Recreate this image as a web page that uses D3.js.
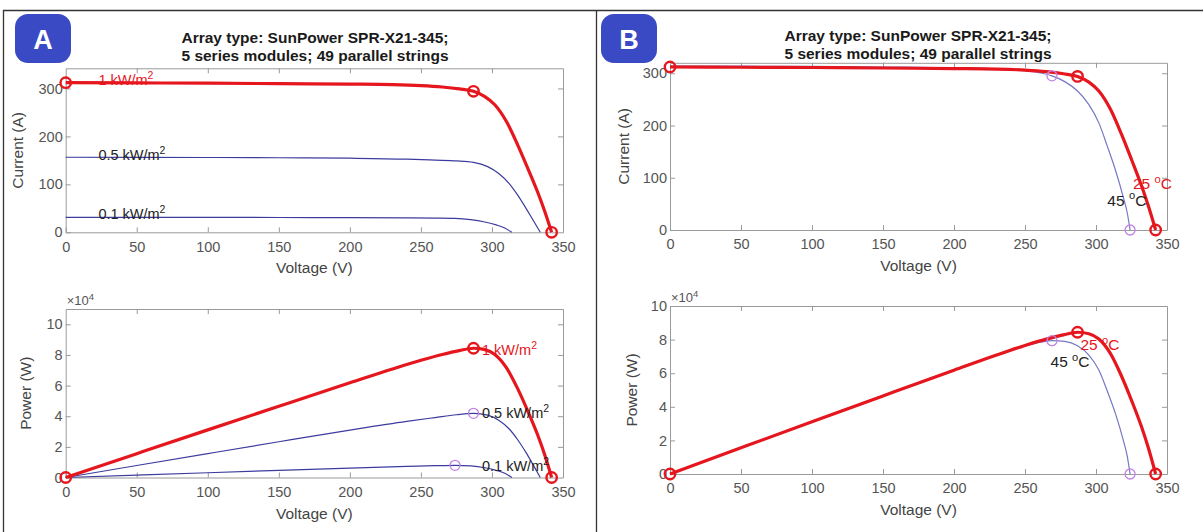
<!DOCTYPE html>
<html><head><meta charset="utf-8">
<script src="https://cdn.jsdelivr.net/npm/d3@7"></script>
<style>
body{margin:0;background:#fff}
svg{display:block}
text{font-family:"Liberation Sans",Arial,Helvetica,sans-serif}
</style>
</head><body>
<svg id="chart" width="1203" height="532"></svg>
<script>
// ---------------- data ----------------
const voltageTicks = [0, 50, 100, 150, 200, 250, 300, 350];
const currentTicks = [0, 100, 200, 300];
const powerTicksA = [0, 20000, 40000, 60000, 80000, 100000];
const powerTicksB = [0, 20000, 40000, 60000, 80000, 100000];
const titleLines = ["Array type: SunPower SPR-X21-345;", "5 series modules; 49 parallel strings"];
const panelLetters = ["A", "B"];

// I-V curves [voltage V, current A]
const iv1000 = [[0,312],[50,311.5],[100,311],[150,310],[200,309],[230,308],[250,306],[265,303],[277,299],[287,294],[295,283],[302,266],[310,232],[318,183],[325,135],[332,85],[337,45],[342,0]];
const iv500 = [[0,156.5],[50,156.3],[100,156],[150,155.5],[200,154.5],[240,152.5],[260,150.5],[275,149],[287,146],[297,137],[305,122],[312,102],[318,78],[324,50],[329,25],[334,0]];
const iv100 = [[0,31.3],[50,31.2],[100,31.1],[150,30.9],[200,30.6],[240,30],[260,29.6],[274,29],[285,26.5],[295,21.5],[303,15.5],[309,9],[314,0]];
const iv45C = [[0,314],[50,313.5],[100,313],[150,312],[200,310.5],[230,308.5],[250,305],[262,300],[269,295],[278,284],[287,266],[295,240],[302,205],[308,160],[314,112],[319,65],[322,33],[324,0]];

// P-V curves [voltage V, power W]
const pv1000 = [[0,0],[50,15575],[100,31100],[150,46500],[200,61800],[230,70840],[250,76500],[265,80295],[277,82823],[287,84378],[295,83485],[302,80332],[310,71920],[318,58194],[325,43875],[332,28220],[337,15165],[342,0]];
const pv500 = [[0,0],[50,7815],[100,15600],[150,23325],[200,30900],[240,36600],[260,39130],[275,40975],[287,41902],[297,40689],[305,37210],[312,31824],[318,24804],[324,16200],[329,8225],[334,0]];
const pv100 = [[0,0],[50,1560],[100,3110],[150,4635],[200,6120],[240,7200],[260,7696],[274,7946],[285,7553],[295,6343],[303,4697],[309,2781],[314,0]];
const pv45C = [[0,0],[50,15675],[100,31300],[150,46800],[200,62100],[230,70955],[250,76250],[262,78600],[269,79355],[278,78952],[287,76342],[295,70800],[302,61910],[308,49280],[314,35168],[319,20735],[322,10626],[324,0]];

// key points (short circuit, max power, open circuit)
const ivMarks1000 = [[0,312],[287,294],[342,0]];
const pvMarks1000 = [[0,0],[287,84378],[342,0]];
const pvMarksLow = [[287,41902],[274,7946]];
const ivMarks45C = [[269,295],[324,0]];
const pvMarks45C = [[269,79355],[324,0]];

// ---------------- drawing ----------------
const svg = d3.select("#chart");
svg.append("rect").attr("width",1203).attr("height",532).attr("fill","#fff");

const RED = "#e5161d", BLUE_A = "#3c3c9e", BLUE_B = "#7777c4", PURPLE = "#c283e6";
const AXIS = "#9a9a9a", TICKTXT = "#555", LABEL = "#444";

// frame lines
svg.append("line").attr("x1",3).attr("x2",1203).attr("y1",10.5).attr("y2",10.5).attr("stroke","#333").attr("stroke-width",1.3);
svg.append("line").attr("x1",3.5).attr("x2",3.5).attr("y1",10).attr("y2",532).attr("stroke","#333").attr("stroke-width",1.3);
svg.append("line").attr("x1",596.5).attr("x2",596.5).attr("y1",10).attr("y2",532).attr("stroke","#333").attr("stroke-width",1.3);

function makePanel(cfg){
  const x = d3.scaleLinear().domain([0,350]).range(cfg.xr);
  const y = d3.scaleLinear().domain(cfg.yd).range(cfg.yr);
  const g = svg.append("g");
  const [x0,x1] = cfg.xr, [y0,y1] = cfg.yr;

  const styleAxis = sel => {
    sel.selectAll(".domain").attr("stroke",AXIS).attr("stroke-width",1);
    sel.selectAll(".tick line").attr("stroke",AXIS);
    sel.selectAll(".tick text").attr("fill",TICKTXT).style("font-size","14.5px").style("font-family",'"Liberation Sans",Arial,sans-serif');
  };
  g.append("g").attr("transform",`translate(0,${y0})`)
    .call(d3.axisBottom(x).tickValues(voltageTicks).tickSizeInner(-5).tickSizeOuter(0).tickPadding(9).tickFormat(d3.format("d")))
    .call(styleAxis);
  g.append("g").attr("transform",`translate(0,${y1})`)
    .call(d3.axisTop(x).tickValues(voltageTicks.filter(v=>v>0&&v<350)).tickSizeInner(-5).tickSizeOuter(0).tickFormat(""))
    .call(styleAxis);
  g.append("g").attr("transform",`translate(${x0},0)`)
    .call(d3.axisLeft(y).tickValues(cfg.yTicks).tickSizeInner(-5).tickSizeOuter(0).tickPadding(3).tickFormat(cfg.fmt))
    .call(styleAxis);
  g.append("g").attr("transform",`translate(${x1},0)`)
    .call(d3.axisRight(y).tickValues(cfg.yTicks.filter(v=>v>0)).tickSizeInner(-5).tickSizeOuter(0).tickFormat(""))
    .call(styleAxis);
  g.selectAll(".tick text").filter(function(){return this.textContent==="";}).remove();

  // axis labels
  g.append("text").attr("x",(x0+x1)/2).attr("y",y0+41).attr("text-anchor","middle")
    .attr("fill",LABEL).style("font-size","15.5px").text("Voltage (V)");
  g.append("text").attr("transform",`translate(${cfg.ylabX},${(y0+y1)/2}) rotate(-90)`).attr("text-anchor","middle")
    .attr("fill",LABEL).style("font-size","15.5px").text(cfg.ylab);
  if(cfg.exp){
    const t = g.append("text").attr("x",x0+1).attr("y",y1-4).attr("fill",TICKTXT).style("font-size","13px");
    t.append("tspan").text("\u00d710");
    t.append("tspan").attr("dy",-5).style("font-size","9.5px").text("4");
  }

  const line = d3.line().x(d=>x(d[0])).y(d=>y(d[1])).curve(d3.curveMonotoneX);
  cfg.thin.forEach(s=>{
    g.append("path").datum(s.data).attr("d",line).attr("fill","none").attr("stroke",s.color).attr("stroke-width",1.2);
  });
  g.append("path").datum(cfg.thick).attr("d",line).attr("fill","none").attr("stroke",RED).attr("stroke-width",3.2).attr("stroke-linejoin","round");

  g.selectAll(null).data(cfg.purple).join("circle").attr("cx",d=>x(d[0])).attr("cy",d=>y(d[1])).attr("r",5)
    .attr("fill","none").attr("stroke",PURPLE).attr("stroke-width",1.3);
  g.selectAll(null).data(cfg.red).join("circle").attr("cx",d=>x(d[0])).attr("cy",d=>y(d[1])).attr("r",5.2)
    .attr("fill","none").attr("stroke",RED).attr("stroke-width",2.4);

  cfg.labels.forEach(l=>{
    const fs = l.size||14.5;
    const t = g.append("text").attr("x",x(l.v)).attr("y",y(l.w)).attr("fill",l.color).style("font-size",fs+"px");
    t.append("tspan").text(l.base);
    t.append("tspan").attr("dy",-fs*0.42).style("font-size",(fs*0.72)+"px").text(l.sup);
    if(l.tail) t.append("tspan").attr("dy",fs*0.42).text(l.tail);
  });
  return {x,y};
}

// titles and badges
[[315,38,56],[918,36,54]].forEach((p,i)=>{
  titleLines.forEach((s,k)=>{
    svg.append("text").attr("x",p[0]).attr("y",(k===0?p[1]:p[2])+5).attr("text-anchor","middle")
      .attr("fill","#1a1a1a").style("font-size","15.5px").style("font-weight","bold").text(s);
  });
});
[[15,14],[601,14]].forEach((p,i)=>{
  svg.append("rect").attr("x",p[0]).attr("y",p[1]).attr("width",56).attr("height",49).attr("rx",13)
    .attr("fill","#3a4ac4");
  svg.append("text").attr("x",p[0]+28).attr("y",p[1]+35).attr("text-anchor","middle").attr("fill","#fff")
    .style("font-size","27px").style("font-weight","bold").text(panelLetters[i]);
});

// Panel A: I-V
makePanel({xr:[65.7,563], yr:[232.3,68.3], yd:[0,342], yTicks:currentTicks, fmt:d3.format("d"),
  ylab:"Current (A)", ylabX:23, exp:false,
  thin:[{data:iv500,color:BLUE_A},{data:iv100,color:BLUE_A}], thick:iv1000,
  red:ivMarks1000, purple:[],
  labels:[
    {v:23,w:308,base:"1 kW/m",sup:"2",color:RED},
    {v:23,w:151.5,base:"0.5 kW/m",sup:"2",color:"#222"},
    {v:23,w:27.5,base:"0.1 kW/m",sup:"2",color:"#222"}
  ]});
// Panel A: P-V
makePanel({xr:[65.7,563], yr:[477.5,309], yd:[0,110000], yTicks:powerTicksA, fmt:d=>d/10000,
  ylab:"Power (W)", ylabX:31, exp:true,
  thin:[{data:pv500,color:BLUE_A},{data:pv100,color:BLUE_A}], thick:pv1000,
  red:pvMarks1000, purple:pvMarksLow,
  labels:[
    {v:293,w:80000,base:"1 kW/m",sup:"2",color:RED},
    {v:293,w:38800,base:"0.5 kW/m",sup:"2",color:"#222"},
    {v:293,w:4100,base:"0.1 kW/m",sup:"2",color:"#222"}
  ]});
// Panel B: I-V
makePanel({xr:[670,1167], yr:[230,62.8], yd:[0,320], yTicks:currentTicks, fmt:d3.format("d"),
  ylab:"Current (A)", ylabX:629, exp:false,
  thin:[{data:iv45C,color:BLUE_B}], thick:iv1000,
  red:ivMarks1000, purple:ivMarks45C,
  labels:[
    {v:326,w:78,base:"25 ",sup:"o",tail:"C",color:RED,size:15.5},
    {v:308,w:46,base:"45 ",sup:"o",tail:"C",color:"#222",size:15.5}
  ]});
// Panel B: P-V
makePanel({xr:[670,1167], yr:[474,306], yd:[0,100000], yTicks:powerTicksB, fmt:d=>d/10000,
  ylab:"Power (W)", ylabX:637, exp:true,
  thin:[{data:pv45C,color:BLUE_B}], thick:pv1000,
  red:pvMarks1000, purple:pvMarks45C,
  labels:[
    {v:289,w:73800,base:"25 ",sup:"o",tail:"C",color:RED,size:15.5},
    {v:268,w:63600,base:"45 ",sup:"o",tail:"C",color:"#222",size:15.5}
  ]});
</script>
</body></html>
